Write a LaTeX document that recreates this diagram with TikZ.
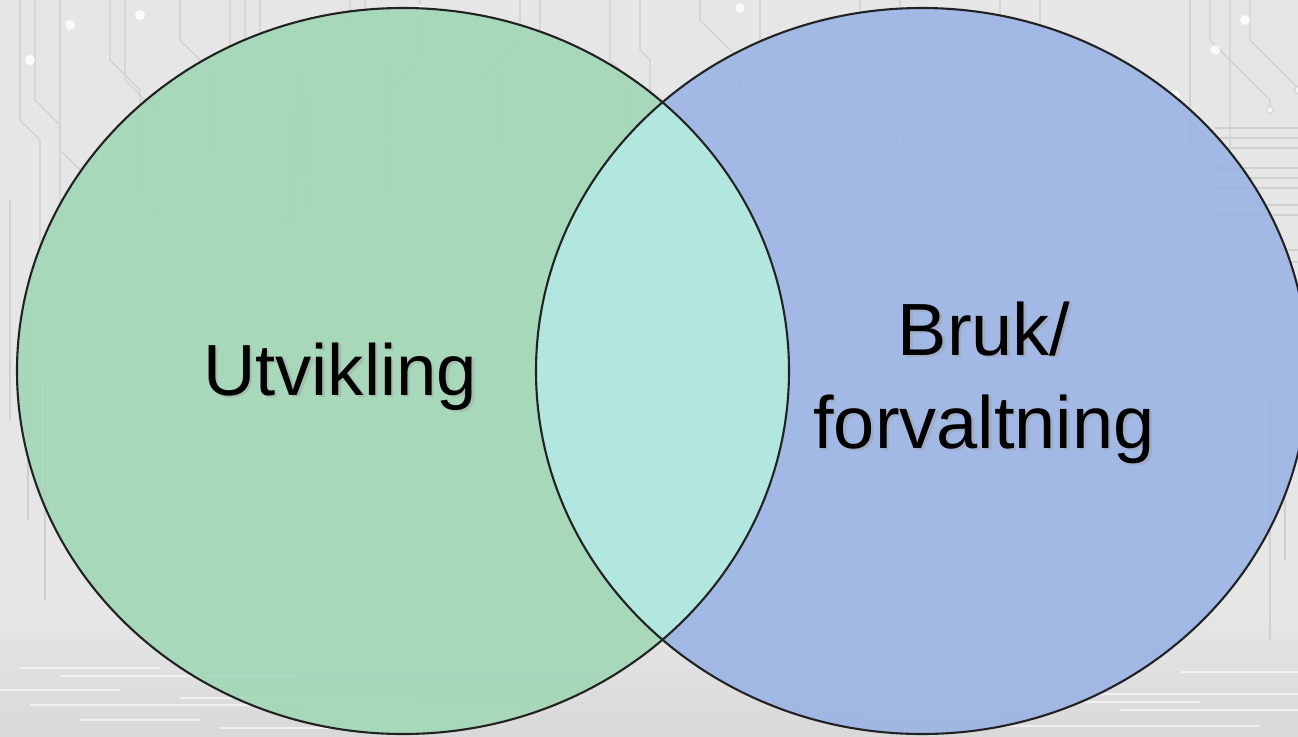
\documentclass[tikz,border=0pt]{standalone}
\usepackage{fontspec}
\setmainfont{Liberation Sans}
\definecolor{bgray}{HTML}{E6E6E6}
\definecolor{trace}{HTML}{D0D0D0}
\definecolor{traceW}{HTML}{F4F4F4}
\definecolor{vgreen}{HTML}{A0D7B5}
\definecolor{vblue}{HTML}{9AB3E5}
\definecolor{vcyan}{HTML}{B6EEE0}
\definecolor{vline}{HTML}{222222}
\begin{document}
\begin{tikzpicture}[x=1pt,y=-1pt,
  tr/.style={draw=trace,line width=1.1pt},
  pad/.style={draw=trace,line width=1pt,fill=traceW},
  setfill/.style={fill opacity=0.88},
  setline/.style={draw=vline,line width=2.1pt},
  lbl/.style={font=\fontsize{72.5}{80}\selectfont,text=black,inner sep=0pt,anchor=base},
  lblb/.style={font=\fontsize{74}{90}\selectfont,text=black,inner sep=0pt,anchor=base},
  shd/.style={text=black!40,opacity=0.4}]
% background
\fill[bgray] (0,0) rectangle (1298,736);
\useasboundingbox (0,0) rectangle (1298,736);
\shade[top color=bgray,bottom color=black!15] (0,610) rectangle (1298,736);
\foreach \yy/\xa/\xb in {668/20/160,676/60/300,690/0/120,698/180/420,705/30/260,712/300/520,720/80/200,728/220/460,684/900/1100,694/1050/1298,702/980/1200,710/1120/1298,718/860/1000,726/1000/1260,672/1180/1298}
  \draw[white,opacity=0.6,line width=1.2pt] (\xa,\yy) -- (\xb,\yy);
% circuit traces
\foreach \x/\a/\d/\b in {20/120/20/260,35/100/25/230,60/150/20/300,110/60/30/200,125/80/30/220,180/40/30/160,230/50/60/220,245/40/60/210,260/30/40/180,350/20/40/140,365/30/40/150,420/60/-30/200,520/40/-40/160,540/30/-40/150,610/60/15/130,640/50/10/120,700/20/40/90,760/40/40/150,860/30/40/140,900/50/-30/190,1000/20/40/120,1040/30/40/130,1190/30/0/150,1210/40/20/160,1230/60/40/110,1250/40/48/90}
  {\draw[tr] (\x,0) -- (\x,\a) -- ({\x+\d},{\a+abs(\d)}) -- ({\x+\d},\b);
   \draw[pad] ({\x+\d},\b) circle (3.5);}
\foreach \yy in {128,138,148,168,178,188,205,215,250,262}
  \draw[tr] (1215,\yy) -- (1298,\yy);
\foreach \x/\a/\b in {10/200/420,28/300/520,45/380/600,1285/320/560,1270/400/640}
  \draw[tr] (\x,\a) -- (\x,\b);
\foreach \x/\y in {30/60,70/25,140/15,1215/50,1245/20,740/8,1175/95,420/10}
  \fill[white,opacity=0.8] (\x,\y) circle (5);
% sets
\coordinate (cl) at (403,371);
\coordinate (cr) at (922,371);
\fill[vgreen,setfill] (cl) ellipse [x radius=386,y radius=363];
\fill[vblue,setfill] (cr) ellipse [x radius=386,y radius=363];
\begin{scope}
  \clip (cl) ellipse [x radius=386,y radius=363];
  \fill[vcyan,setfill] (cr) ellipse [x radius=386,y radius=363];
\end{scope}
\draw[setline] (cl) ellipse [x radius=386,y radius=363];
\draw[setline] (cr) ellipse [x radius=386,y radius=363];
% labels
\node[lbl,shd] (us) at (342.5,397.5) {Utvikling};
\node[lbl] (u) at (340,395) {Utvikling};
\node[lblb,shd] (b1s) at (986.5,357.5) {Bruk/};
\node[lblb] (b1) at (984,355) {Bruk/};
\node[lblb,shd] (b2s) at (986.5,450.5) {forvaltning};
\node[lblb] (b2) at (984,448) {forvaltning};
\end{tikzpicture}
\end{document}
